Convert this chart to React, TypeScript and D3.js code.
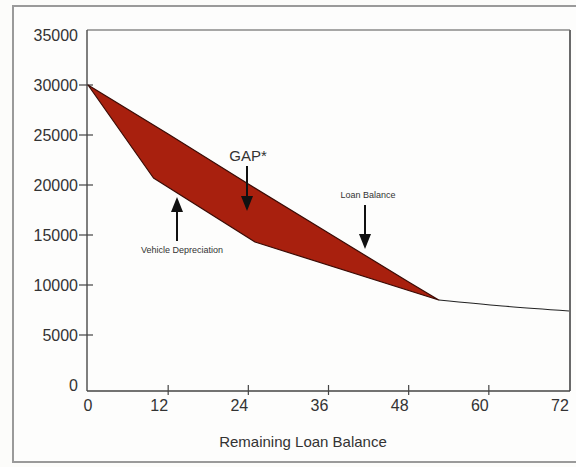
import { scaleLinear, line, curveMonotoneX } from "d3";

const yTicks = [0, 5000, 10000, 15000, 20000, 25000, 30000, 35000];
const xTicks = [0, 12, 24, 36, 48, 60, 72];

// months / dollars
const loanMonths = [0, 12, 24, 36, 48, 52.5];
const loanValues = [30000, 25100, 20100, 15200, 10300, 8500];
const deprMonths = [0, 9.8, 25, 52.5];
const deprValues = [30000, 20700, 14300, 8500];
const tailMonths = [52.5, 62, 72];
const tailValues = [8500, 7900, 7400];

export default function App() {
  const width = 576;
  const height = 467;
  const x = scaleLinear().domain([0, 72]).range([88, 569]);
  const y = scaleLinear().domain([0, 35000]).range([385, 35]);
  const axisY = 391;
  const font = "'Liberation Sans', Arial, Helvetica, sans-serif";

  const pt = line<[number, number]>()
    .x((d) => x(d[0]))
    .y((d) => y(d[1]));
  const loan: [number, number][] = loanMonths.map((m, i) => [m, loanValues[i]]);
  const depr: [number, number][] = deprMonths.map((m, i) => [m, deprValues[i]]);
  const gap = pt([...loan, ...depr.slice().reverse()]) + "Z";
  const tail = line<[number, number]>()
    .x((d) => x(d[0]))
    .y((d) => y(d[1]))
    .curve(curveMonotoneX)(tailMonths.map((m, i) => [m, tailValues[i]]));

  return (
    <svg
      width={width}
      height={height}
      style={{ position: "absolute", left: 0, top: 0, background: "#fcfcfa" }}
      fontFamily={font}
    >
      <rect x={13} y={6} width={width} height={456} fill="#fdfdfc" stroke="#9a9a9a" strokeWidth={2} />
      <line x1={87} x2={570} y1={30} y2={30} stroke="#8a8a8a" strokeWidth={1.5} />
      <line x1={570} x2={570} y1={30} y2={axisY} stroke="#6a6a6a" strokeWidth={2} />
      <line x1={87} x2={87} y1={30} y2={axisY} stroke="#555" strokeWidth={1.5} />
      <line x1={87} x2={570} y1={axisY} y2={axisY} stroke="#444" strokeWidth={1.5} />

      {yTicks.map((t) => (
        <g key={t}>
          {t > 0 && t < 35000 && (
            <line x1={79} x2={93} y1={y(t)} y2={y(t)} stroke="#444" strokeWidth={1.2} />
          )}
          <text x={78} y={y(t) + 5.5} textAnchor="end" fontSize={16} fill="#333">
            {t}
          </text>
        </g>
      ))}
      {xTicks.map((t) => (
        <g key={t}>
          {t > 0 && t < 72 && (
            <line x1={x(t)} x2={x(t)} y1={385} y2={395} stroke="#444" strokeWidth={1.2} />
          )}
          <text x={t === 0 ? x(t) : x(t) - 9} y={411} textAnchor="middle" fontSize={16} fill="#333">
            {t}
          </text>
        </g>
      ))}

      <path d={gap} fill="#a8200e" stroke="#3a0b05" strokeWidth={1.2} strokeLinejoin="round" />
      <path d={tail ?? ""} fill="none" stroke="#222" strokeWidth={1.2} />

      <text x={248} y={161} textAnchor="middle" fontSize={15} fill="#333">
        GAP*
      </text>
      <line x1={247} x2={247} y1={166} y2={200} stroke="#111" strokeWidth={2} />
      <path d="M241 196 L247 211 L253 196 Z" fill="#111" />

      <text x={368} y={198} textAnchor="middle" fontSize={9} fill="#333">
        Loan Balance
      </text>
      <line x1={365} x2={365} y1={205} y2={238} stroke="#111" strokeWidth={2} />
      <path d="M359 234 L365 249 L371 234 Z" fill="#111" />

      <text x={182} y={253} textAnchor="middle" fontSize={9} fill="#333">
        Vehicle Depreciation
      </text>
      <line x1={177} x2={177} y1={241} y2={208} stroke="#111" strokeWidth={2} />
      <path d="M171 212 L177 197 L183 212 Z" fill="#111" />

      <text x={303} y={447} textAnchor="middle" fontSize={15} fill="#333">
        Remaining Loan Balance
      </text>
    </svg>
  );
}
